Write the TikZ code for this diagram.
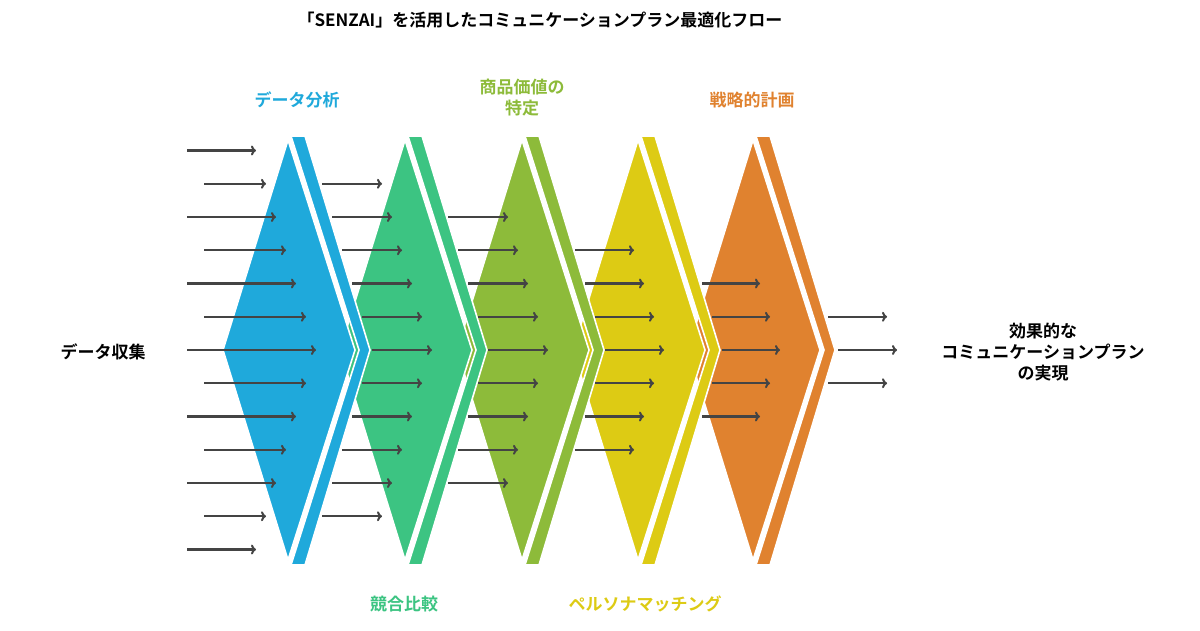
\documentclass[tikz,border=0pt]{standalone}
\usetikzlibrary{arrows.meta}
\usepackage{fontspec}
\setmainfont{Noto Sans CJK JP}[BoldFont={* Bold}]
\definecolor{cblue}{HTML}{1FA9DB}
\definecolor{cgreen}{HTML}{3CC482}
\definecolor{colive}{HTML}{8DBB3A}
\definecolor{cyellow}{HTML}{DDCB14}
\definecolor{corange}{HTML}{E0822F}
\definecolor{cgray}{HTML}{444444}
\begin{document}
\begin{tikzpicture}[x=1pt,y=-1pt,
  arr/.style={draw=cgray,line width=2.2pt,-{To[length=5pt,width=10pt,line width=2pt]}},
  lbl/.style={font=\bfseries\fontsize{17}{21}\selectfont,align=center},
  chev/.style={line width=1.6pt,draw=white}]
\fill[white] (0,0) rectangle (1200,630);
\foreach \t/\c in {753/corange,638/cyellow,522/colive,405/cgreen,288/cblue}{
  \filldraw[chev,fill=\c] (\t+3,136)--(\t+17,136)--(\t+82,350)--(\t+17,565)--(\t+3,565)--(\t+71,350)--cycle;
  \filldraw[chev,fill=\c] (\t,140)--(\t+67,350)--(\t,560)--(\t-65,350)--cycle;
}
\foreach \tl/\hd/\n in {187/316/6,372/432/5,488/548/4,605/664/3,722/780/2,838/897/1}{
  \foreach \r in {-\n,...,\n}{
    \pgfmathsetmacro{\ar}{abs(\r)}
    \pgfmathsetmacro{\yy}{350+33.25*\r}
    \pgfmathsetmacro{\hh}{\hd-10*\ar}
    \ifnum\n=6
      \pgfmathsetmacro{\tt}{ifthenelse(mod(\ar,2)==0,187,204)}
    \else
      \pgfmathsetmacro{\tt}{\tl-10*\ar}
    \fi
    \coordinate (s) at (\tt,\yy);
    \coordinate (e) at (\hh,\yy);
    \draw[arr] (s)--(e);
  }
}
\node[lbl] (title) at (540,20) {「SENZAI」を活用したコミュニケーションプラン最適化フロー};
\node[lbl,text=cblue] (l1) at (297,100) {データ分析};
\node[lbl,text=colive] (l3) at (522,98) {商品価値の\\特定};
\node[lbl,text=corange] (l5) at (752,100) {戦略的計画};
\node[lbl,text=cgreen] (l2) at (404,604) {競合比較};
\node[lbl,text=cyellow] (l4) at (645,604) {ペルソナマッチング};
\node[lbl] (in) at (103,352) {データ収集};
\node[lbl] (out) at (1043,352) {効果的な\\コミュニケーションプラン\\の実現};
\end{tikzpicture}
\end{document}
